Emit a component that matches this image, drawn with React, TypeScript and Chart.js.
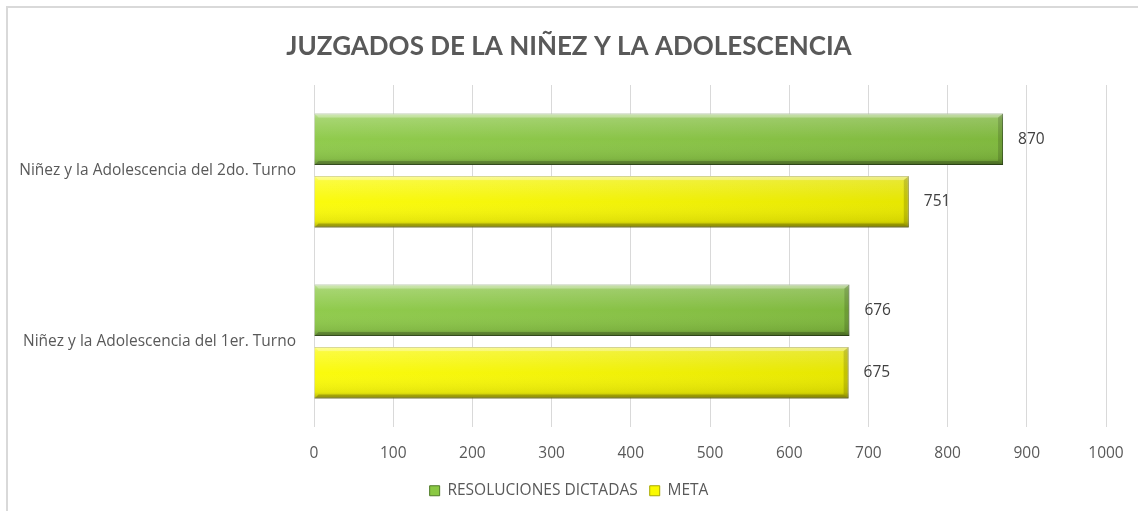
import React, { useEffect, useRef } from "react";
import { Chart, registerables } from "chart.js";

Chart.register(...registerables);

const categories = [
  "Niñez y la Adolescencia del 2do. Turno",
  "Niñez y la Adolescencia del 1er. Turno",
];
const resolucionesDictadas = [870, 676];
const meta = [751, 675];
const seriesNames = ["RESOLUCIONES DICTADAS", "META"];
const xTicks = [0, 100, 200, 300, 400, 500, 600, 700, 800, 900, 1000];

const FONT = "'Open Sans', sans-serif";
const TITLE_FONT = "Lato, 'Open Sans', sans-serif";
const TEXT = "#595959";
const FS = 15.5;

const bevelPlugin = {
  id: "bevel",
  afterDatasetsDraw(chart: any) {
    const ctx = chart.ctx;
    chart.data.datasets.forEach((ds: any, di: number) => {
      const metaD = chart.getDatasetMeta(di);
      if (metaD.hidden) return;
      metaD.data.forEach((el: any) => {
        const { x, y, base, height } = el.getProps(["x", "y", "base", "height"], true);
        const left = Math.min(x, base);
        const right = Math.max(x, base);
        const top = y - height / 2;
        const w = right - left;
        const h = height;
        ctx.save();
        const g = ctx.createLinearGradient(0, top, 0, top + h);
        g.addColorStop(0, "rgba(255,255,255,0.45)");
        g.addColorStop(0.1, "rgba(255,255,255,0.2)");
        g.addColorStop(0.5, "rgba(255,255,255,0)");
        g.addColorStop(0.88, "rgba(0,0,0,0.08)");
        g.addColorStop(1, "rgba(0,0,0,0.3)");
        ctx.fillStyle = g;
        ctx.fillRect(left, top, w, h);
        const gh = ctx.createLinearGradient(left, 0, right, 0);
        gh.addColorStop(0, "rgba(255,255,255,0.05)");
        gh.addColorStop(1, "rgba(0,0,0,0.08)");
        ctx.fillStyle = gh;
        ctx.fillRect(left, top, w, h);
        ctx.fillStyle = "rgba(0,0,0,0.15)";
        ctx.beginPath();
        ctx.moveTo(right, top);
        ctx.lineTo(right, top + h);
        ctx.lineTo(right - 5, top + h - 4);
        ctx.lineTo(right - 5, top + 4);
        ctx.closePath();
        ctx.fill();
        ctx.fillStyle = "rgba(255,255,255,0.25)";
        ctx.beginPath();
        ctx.moveTo(left, top);
        ctx.lineTo(right, top);
        ctx.lineTo(right - 5, top + 4);
        ctx.lineTo(left + 4, top + 4);
        ctx.closePath();
        ctx.fill();
        ctx.fillStyle = "rgba(0,0,0,0.2)";
        ctx.beginPath();
        ctx.moveTo(left, top + h);
        ctx.lineTo(right, top + h);
        ctx.lineTo(right - 5, top + h - 4);
        ctx.lineTo(left + 4, top + h - 4);
        ctx.closePath();
        ctx.fill();
        ctx.restore();
      });
    });
  },
};

const valueLabelPlugin = {
  id: "valueLabels",
  afterDatasetsDraw(chart: any) {
    const ctx = chart.ctx;
    ctx.save();
    ctx.font = `${FS}px ${FONT}`;
    ctx.fillStyle = "#404040";
    ctx.textAlign = "left";
    ctx.textBaseline = "middle";
    chart.data.datasets.forEach((ds: any, di: number) => {
      const metaD = chart.getDatasetMeta(di);
      metaD.data.forEach((el: any, i: number) => {
        ctx.fillText(String(ds.data[i]), el.x + 15, el.y);
      });
    });
    ctx.restore();
  },
};

export default function App() {
  const ref = useRef<HTMLCanvasElement>(null);
  useEffect(() => {
    if (!ref.current) return;
    const chart = new Chart(ref.current, {
      type: "bar",
      data: {
        labels: categories,
        datasets: [
          {
            label: seriesNames[0],
            data: resolucionesDictadas,
            backgroundColor: "#8ac843",
            borderColor: "#4f7a28",
            borderWidth: 1,
            categoryPercentage: 0.73,
            barPercentage: 0.823,
          },
          {
            label: seriesNames[1],
            data: meta,
            backgroundColor: "#fafa00",
            borderColor: "#a8a800",
            borderWidth: 1,
            categoryPercentage: 0.73,
            barPercentage: 0.823,
          },
        ],
      },
      options: {
        indexAxis: "y",
        animation: false,
        responsive: false,
        maintainAspectRatio: false,
        layout: { padding: { left: 0, right: 0, top: 0, bottom: 2.5 } },
        scales: {
          x: {
            min: 0,
            max: 1000,
            afterBuildTicks(scale: any) {
              scale.ticks = xTicks.map((v) => ({ value: v }));
            },
            afterFit(scale: any) {
              scale.height = 44;
              scale.paddingRight = 32;
            },
            grid: { color: "#d9d9d9", drawTicks: false, lineWidth: 1 },
            border: { display: false },
            ticks: {
              color: TEXT,
              font: { family: FONT, size: FS },
              padding: 17,
              maxRotation: 0,
              callback: (v: any) => String(v),
            },
          },
          y: {
            afterFit(scale: any) {
              scale.width = 314;
            },
            grid: { display: false, drawTicks: false },
            border: { display: false },
            ticks: { color: TEXT, font: { family: FONT, size: FS }, padding: 18 },
          },
        },
        plugins: {
          title: {
            display: true,
            text: "JUZGADOS DE LA NIÑEZ Y LA ADOLESCENCIA",
            color: TEXT,
            font: { family: TITLE_FONT, size: 26, weight: "bold" },
            padding: { top: 31, bottom: 22.8 },
          },
          legend: {
            position: "bottom",
            labels: {
              color: TEXT,
              font: { family: FONT, size: FS },
              boxWidth: 10,
              boxHeight: 10,
              padding: 12,
            },
          },
          tooltip: { enabled: false },
        },
      },
      plugins: [bevelPlugin, valueLabelPlugin],
    } as any);
    return () => chart.destroy();
  }, []);
  return (
    <div style={{ position: "fixed", left: 0, top: 0, width: 1138, height: 511, background: "#fff", overflow: "hidden" }}>
      <div
        style={{
          position: "absolute",
          left: 6,
          top: 6,
          width: 1200,
          height: 600,
          borderTop: "2px solid #d9d9d9",
          borderLeft: "2px solid #d9d9d9",
        }}
      />
      <canvas ref={ref} width={1138} height={511} style={{ position: "absolute", left: 0, top: 0 }} />
    </div>
  );
}
